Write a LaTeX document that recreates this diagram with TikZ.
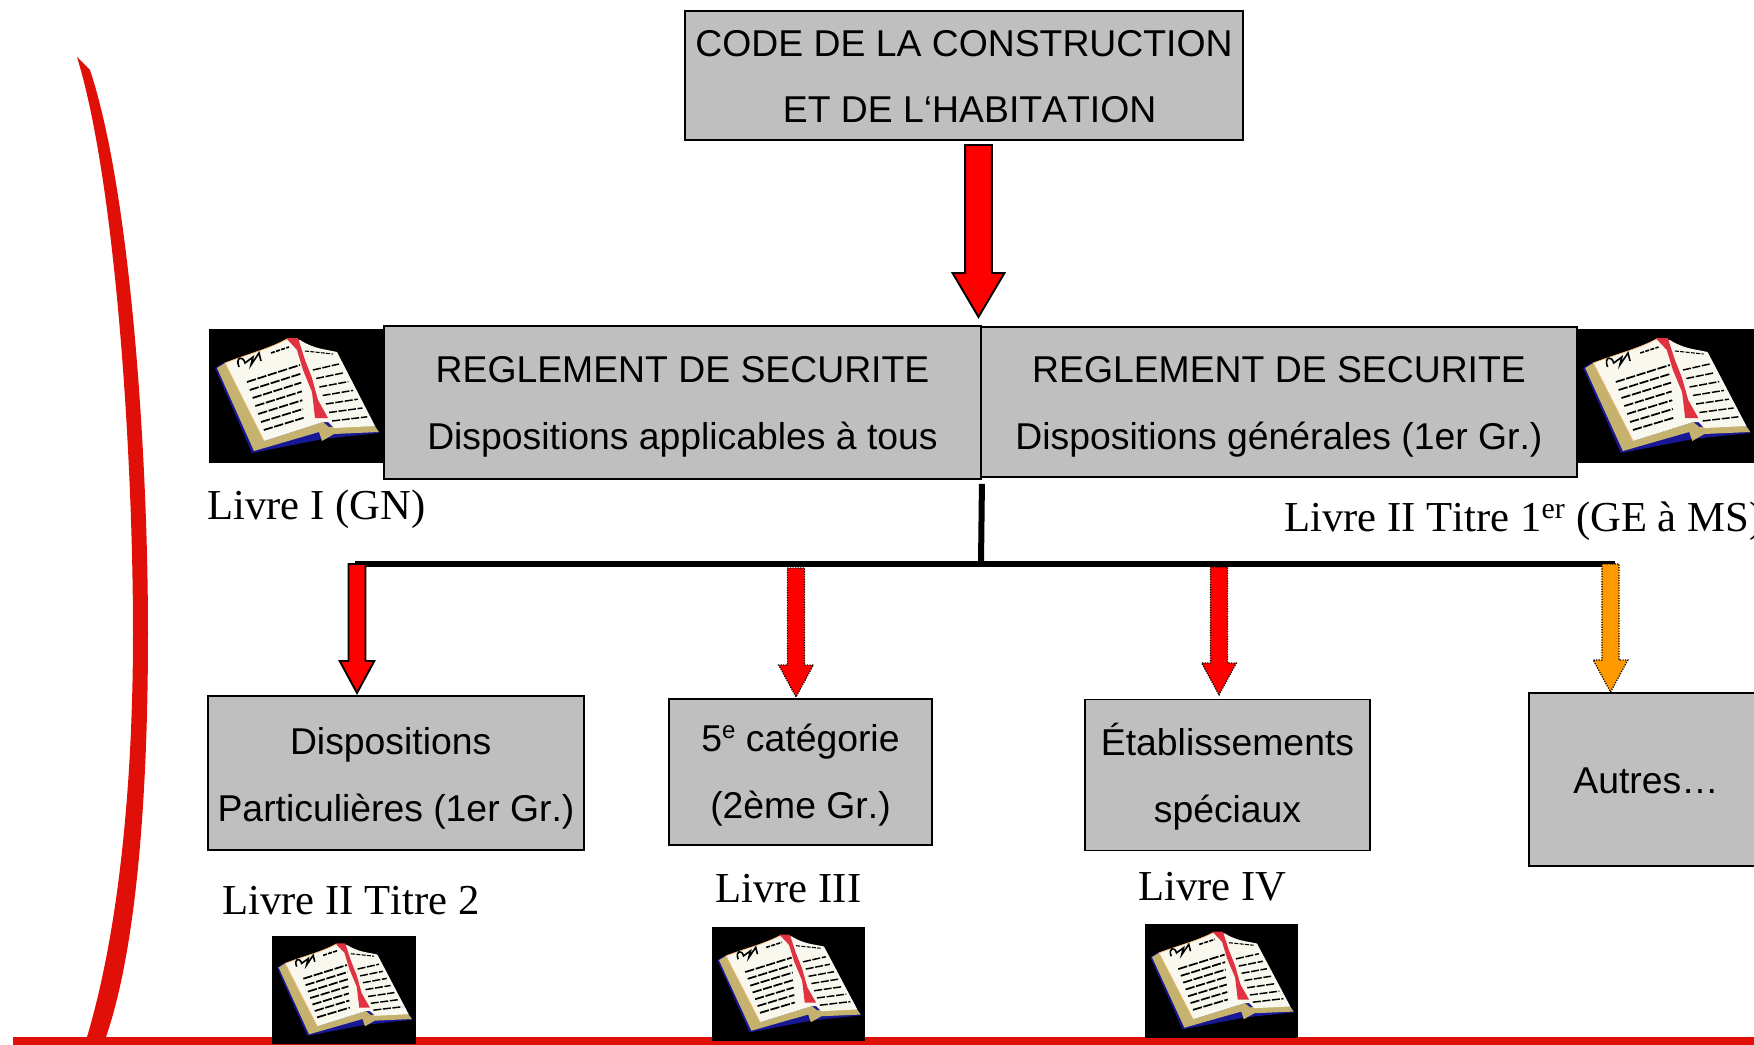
\documentclass[tikz,border=0pt]{standalone}
\usepackage{fontspec}
\setmainfont[Kerning=Off]{Liberation Serif}
\setsansfont[Kerning=Off]{Liberation Sans}
\usetikzlibrary{calc}
\definecolor{boxgrey}{RGB}{191,191,191}
\definecolor{linered}{RGB}{224,16,8}
\definecolor{arroworange}{RGB}{255,153,0}
\definecolor{pagetan}{RGB}{196,178,110}
\definecolor{pagewhite}{RGB}{248,248,238}
\definecolor{coverblue}{RGB}{24,24,150}
\definecolor{ribbonred}{RGB}{224,50,64}
\tikzset{every picture/.style={line width=0.75pt}}
\tikzset{
  boxgr/.style={draw,fill=boxgrey,line width=1.4pt,inner sep=0pt,align=center,font=\sffamily\fontsize{28}{50}\selectfont},
  livre/.style={anchor=base west,inner sep=0pt,font=\rmfamily\fontsize{32}{38}\selectfont},
  trunk/.style={line width=4.5pt},
  solidarrow/.style={draw=black,line width=1.4pt,fill=red,line join=miter},
  dotarrow/.style={draw=black,line width=0.9pt,densely dotted,fill=#1},
  bookicon/.pic={
    \fill[black] (0,0) rectangle (175,134);
    \fill[coverblue] (6,39) -- (16,33) -- (129,26) -- (170,104) -- (114,110) -- (43,124) -- cycle;
    \fill[pagetan] (8,39) -- (16,34) -- (55,112) -- (114,93) -- (120,98) -- (165,96) -- (170,103) -- (125,105) -- (113,112) -- (110,103) -- (45,122) -- cycle;
    \fill[pagewhite] (16,34) .. controls (36,26) and (60,20) .. (78,10) -- (91,11) .. controls (105,20) and (115,20) .. (128,23) -- (166,97) -- (125,99) -- (119,93) -- (114,93) -- (55,112) -- cycle;
    \draw[orange!60,line width=0.5pt] (55,112) -- (16,34) .. controls (36,26) and (60,20) .. (78,10);
    \foreach \i in {0,...,6}{
      \draw[black,line width=1.3pt,dash pattern=on 7pt off 1.2pt] (38+\i*2.8,53+\i*8) -- (91+\i*0.6,36+\i*8.8);
      \draw[black,line width=1.1pt,dash pattern=on 6pt off 1.2pt] (104+\i*3.2,41+\i*8.5) -- (130+\i*4.7,35+\i*8.8);
    }
    \draw[black,line width=1.2pt] (30,38) .. controls (26,28) and (34,26) .. (36,34) -- (44,28) -- (42,36) -- (50,24) -- (52,32);
    \draw[black,line width=1.2pt,dash pattern=on 3pt off 1pt] (62,24) -- (80,18);
    \draw[black,line width=0.8pt,dash pattern=on 3pt off 1pt] (96,22) -- (124,25);
    \fill[ribbonred] (77,9) -- (89,9) -- (96,31) -- (103,49) -- (109,71) -- (119,89) -- (106,89) -- (103,63) -- (94,41) -- (88,21) -- cycle;
  }
}
% style, from, to, half shaft, half head, head length
\newcommand{\blockarrow}[6]{
  \path[#1] let \p1=(#2), \p2=(#3) in
    (\x1-#4,\y1) -- (\x1+#4,\y1) -- (\x1+#4,\y2-#6) -- (\x1+#5,\y2-#6) -- (\x2,\y2) -- (\x1-#5,\y2-#6) -- (\x1-#4,\y2-#6) -- cycle;
}
% pushes the text of a box down a little
\newcommand{\lowr}[1]{\rule{0pt}{#1}}
\newcommand{\supr}[1]{\raisebox{10pt}{\fontsize{18}{18}\selectfont #1}}

\begin{document}
\begin{tikzpicture}[x=0.75pt,y=0.75pt,yscale=-1,xscale=1]
\useasboundingbox (0,0) rectangle (1754,1045);

%Red curve and ground line
\fill[linered] (77,57) -- (90,70) .. controls (130,190) and (148,450) .. (148,633) .. controls (148,800) and (136,950) .. (106,1037) -- (87,1037) .. controls (116,940) and (133,800) .. (133,633) .. controls (133,450) and (115,180) .. (77,57) -- cycle;
\fill[linered] (13,1037) rectangle (1754,1045);

%Books
\pic[yscale=-1] at (209,329) {bookicon};
\pic[xscale=1.02,yscale=-1] at (1577,329) {bookicon};
\pic[xscale=0.823,yscale=-0.806] at (272,936) {bookicon};
\pic[xscale=0.875,yscale=-0.85] at (712,927) {bookicon};
\pic[xscale=0.875,yscale=-0.85] at (1145,924) {bookicon};

%Boxes
\node[boxgr,minimum width=418.5pt,minimum height=96.75pt] (code) at (964,75.5) {\lowr{21.5pt}CODE DE LA CONSTRUCTION\\\hspace*{8.4pt}ET DE L‘HABITATION};
\node[boxgr,minimum width=447.75pt,minimum height=114.75pt] (regla) at (682.5,402.5) {\lowr{26.5pt}REGLEMENT DE SECURITE\\Dispositions applicables à tous};
\node[boxgr,minimum width=447pt,minimum height=112.5pt] (reglb) at (1279,402) {\lowr{26.5pt}REGLEMENT DE SECURITE\\Dispositions générales (1er Gr.)};
\node[boxgr,minimum width=282pt,minimum height=115.5pt] (dispo) at (396,773) {\lowr{28.5pt}Dispositions\hspace*{8pt}\\Particulières (1er Gr.)};
\node[boxgr,minimum width=197.25pt,minimum height=109.5pt] (cinq) at (800.5,772) {\lowr{25pt}5\supr{e} catégorie\\(2ème Gr.)};
\node[boxgr,minimum width=213.75pt,minimum height=113.25pt] (etab) at (1227.5,775) {\lowr{27pt}Établissements\\spéciaux};
\node[boxgr,minimum width=175.5pt,minimum height=130pt] (autres) at (1646,779.5) {\lowr{22pt}Autres…};

%Trunk
\coordinate (barl) at (355,563.5);
\coordinate (barr) at (1615,563.5);
\coordinate (barm) at (981,563.5);
\draw[trunk] ([yshift=3pt]regla.south east) -- (barm);
\draw[trunk] (barl) -- (barr);

%Arrows
\coordinate (codeout) at (978.5,145);
\coordinate (reglin) at (978.5,317);
\coordinate (disptop) at (357,564);
\coordinate (dispin) at (357,693);
\coordinate (cinqtop) at (796,568);
\coordinate (cinqin) at (796,697);
\coordinate (etabtop) at (1219,567);
\coordinate (etabin) at (1219,695);
\coordinate (autrtop) at (1610.5,564);
\coordinate (autrin) at (1610.5,692);
\blockarrow{solidarrow}{codeout}{reglin}{10pt}{19.5pt}{33pt}
\blockarrow{solidarrow}{disptop}{dispin}{6.4pt}{13pt}{24pt}
\blockarrow{dotarrow=red}{cinqtop}{cinqin}{6.4pt}{13pt}{24pt}
\blockarrow{dotarrow=red}{etabtop}{etabin}{6.4pt}{13pt}{24pt}
\blockarrow{dotarrow=arroworange}{autrtop}{autrin}{6.4pt}{13pt}{24pt}

% Text Node
\node[livre] (livrea) at (207,519) {Livre I (GN)};
\node[livre] (livreb) at (1284,531) {Livre II Titre 1\textsuperscript{er} (GE à MS)};
\node[livre] (livrec) at (222,914) {Livre II Titre 2};
\node[livre] (livred) at (715,902) {Livre III};
\node[livre] (livree) at (1138,900) {Livre IV};
\end{tikzpicture}
\end{document}
